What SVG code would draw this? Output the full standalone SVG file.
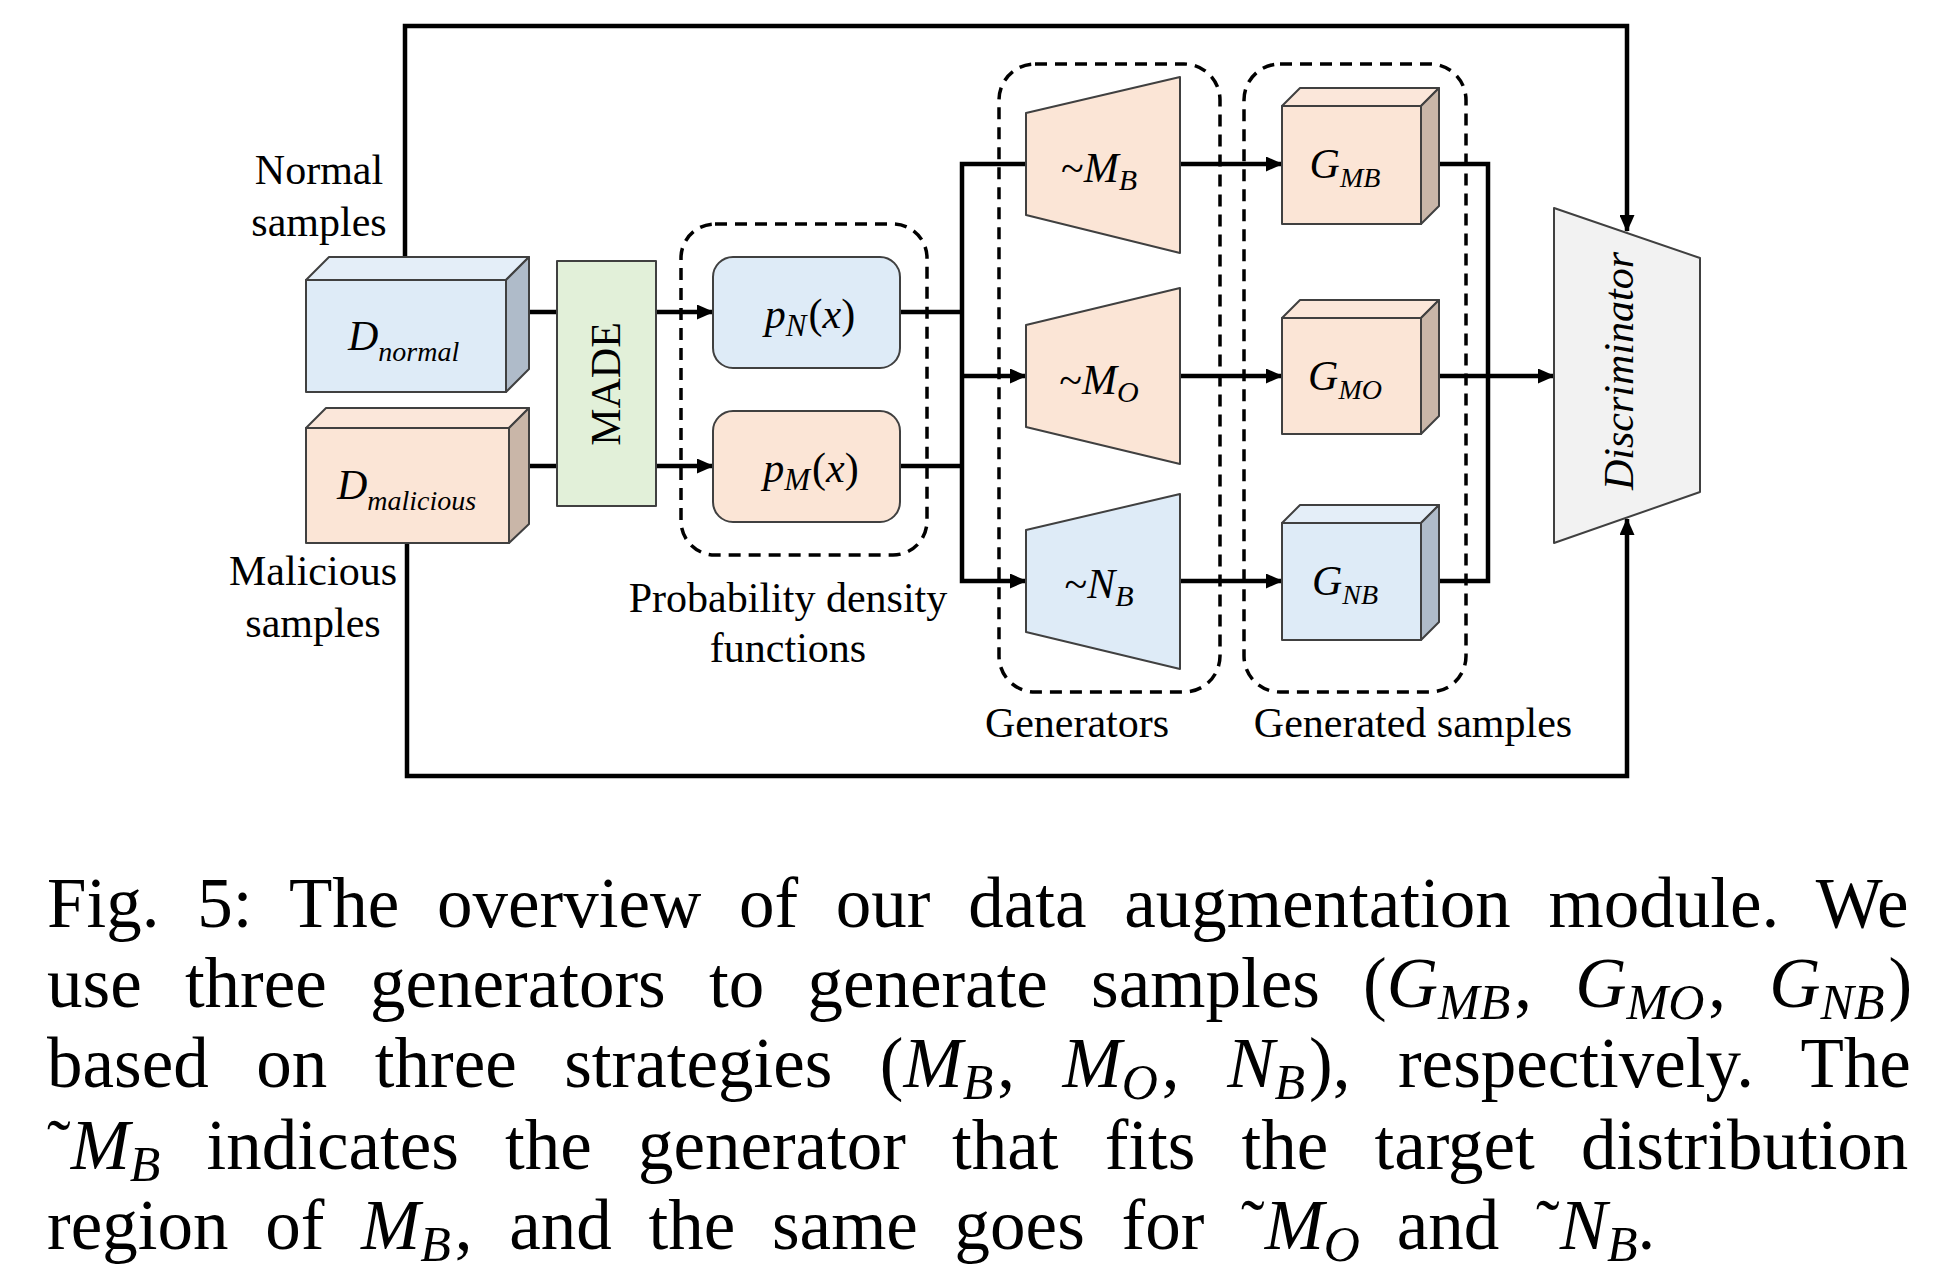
<svg xmlns="http://www.w3.org/2000/svg" width="1948" height="1280" viewBox="0 0 1948 1280">
<style>
.edge{stroke:#404040;stroke-width:2;stroke-linejoin:round}
.blue{fill:#DEEBF7}.blueT{fill:#E4EEF8}.blueS{fill:#AFBBC9}
.peach{fill:#FBE5D6}.peachT{fill:#FBE7DA}.peachS{fill:#C9B6A8}
.green{fill:#E2F0D9}.grey{fill:#F2F2F2}
.dash{fill:none;stroke:#000;stroke-width:3.5;stroke-dasharray:12 8}
.wire{fill:none;stroke:#000;stroke-width:4.5}
.lbl{font-family:"Liberation Serif","Times New Roman",serif;font-size:42px;fill:#000}
.it{font-style:italic}
.cap{font-family:"Liberation Serif","Times New Roman",serif;font-size:71px;fill:#000}
</style>
<defs>
<marker id="arr" markerUnits="userSpaceOnUse" markerWidth="17" markerHeight="15" refX="16" refY="7.5" orient="auto">
<path d="M0,0 L17,7.5 L0,15 z" fill="#000"/>
</marker>
</defs>
<rect width="1948" height="1280" fill="#fff"/>

<g id="groups">
<rect id="pdf-group" class="dash" x="681" y="224" width="246" height="331" rx="34"/>
<rect id="gen-group" class="dash" x="999" y="64" width="221" height="628" rx="36"/>
<rect id="samples-group" class="dash" x="1244" y="64" width="222" height="628" rx="36"/>
</g>

<g id="connectors">
<polyline class="wire" points="405,280 405,26 1627,26 1627,231" marker-end="url(#arr)"/>
<polyline class="wire" points="407,543 407,776 1627,776 1627,519" marker-end="url(#arr)"/>
<line class="wire" x1="529" y1="312" x2="557" y2="312"/>
<line class="wire" x1="529" y1="466" x2="557" y2="466"/>
<line class="wire" x1="656" y1="312" x2="713" y2="312" marker-end="url(#arr)"/>
<line class="wire" x1="656" y1="466" x2="713" y2="466" marker-end="url(#arr)"/>
<line class="wire" x1="900" y1="312" x2="962" y2="312"/>
<line class="wire" x1="900" y1="466" x2="962" y2="466"/>
<polyline class="wire" points="1026,164 962,164 962,581 1026,581" marker-end="url(#arr)"/>
<line class="wire" x1="962" y1="376" x2="1026" y2="376" marker-end="url(#arr)"/>
<line class="wire" x1="1180" y1="164" x2="1282" y2="164" marker-end="url(#arr)"/>
<line class="wire" x1="1180" y1="376" x2="1282" y2="376" marker-end="url(#arr)"/>
<line class="wire" x1="1180" y1="581" x2="1282" y2="581" marker-end="url(#arr)"/>
<polyline class="wire" points="1421,164 1488,164 1488,581 1421,581"/>
<line class="wire" x1="1421" y1="376" x2="1554" y2="376" marker-end="url(#arr)"/>
</g>

<g id="d-normal">
<polygon class="blueT edge" points="306,280 329,257 529,257 506,280"/>
<polygon class="blueS edge" points="506,280 529,257 529,369 506,392"/>
<rect class="blue edge" x="306" y="280" width="200" height="112"/>
<text class="lbl it" x="348" y="350" font-size="41">D<tspan font-size="28" dy="11">normal</tspan></text>
</g>
<g id="d-malicious">
<polygon class="peachT edge" points="306,428 326,408 529,408 509,428"/>
<polygon class="peachS edge" points="509,428 529,408 529,524 509,543"/>
<rect class="peach edge" x="306" y="428" width="203" height="115"/>
<text class="lbl it" x="337" y="499" font-size="41">D<tspan font-size="28" dy="11">malicious</tspan></text>
</g>
<g id="made">
<rect class="green edge" x="557" y="261" width="99" height="245"/>
<text class="lbl" text-anchor="middle" transform="translate(620,384) rotate(-90)">MADE</text>
</g>

<g id="pn">
<rect class="blue edge" x="713" y="257" width="187" height="111" rx="20"/>
<text class="lbl" x="810" y="328" text-anchor="middle" font-size="45"><tspan class="it">p</tspan><tspan class="it" font-size="31" dy="8">N</tspan><tspan dy="-8" dx="2">(</tspan><tspan class="it">x</tspan>)</text>
</g>
<g id="pm">
<rect class="peach edge" x="713" y="411" width="187" height="111" rx="20"/>
<text class="lbl" x="811" y="482" text-anchor="middle" font-size="45"><tspan class="it">p</tspan><tspan class="it" font-size="31" dy="8">M</tspan><tspan dy="-8" dx="2">(</tspan><tspan class="it">x</tspan>)</text>
</g>

<g id="gen-mb">
<polygon class="peach edge" points="1026,113 1180,77 1180,253 1026,215"/>
<text class="lbl" x="1099" y="182" text-anchor="middle">~<tspan class="it">M</tspan><tspan class="it" font-size="30" dy="8">B</tspan></text>
</g>
<g id="gen-mo">
<polygon class="peach edge" points="1026,325 1180,288 1180,464 1026,427"/>
<text class="lbl" x="1099" y="394" text-anchor="middle">~<tspan class="it">M</tspan><tspan class="it" font-size="30" dy="8">O</tspan></text>
</g>
<g id="gen-nb">
<polygon class="blue edge" points="1026,530 1180,494 1180,669 1026,632"/>
<text class="lbl" x="1099" y="598" text-anchor="middle">~<tspan class="it">N</tspan><tspan class="it" font-size="30" dy="8">B</tspan></text>
</g>

<g id="g-mb">
<polygon class="peachT edge" points="1282,106 1300,88 1439,88 1421,106"/>
<polygon class="peachS edge" points="1421,106 1439,88 1439,206 1421,224"/>
<rect class="peach edge" x="1282" y="106" width="139" height="118"/>
<text class="lbl it" x="1345" y="178" text-anchor="middle" font-size="35">G<tspan font-size="28" dy="9">MB</tspan></text>
</g>
<g id="g-mo">
<polygon class="peachT edge" points="1282,318 1300,300 1439,300 1421,318"/>
<polygon class="peachS edge" points="1421,318 1439,300 1439,416 1421,434"/>
<rect class="peach edge" x="1282" y="318" width="139" height="116"/>
<text class="lbl it" x="1345" y="390" text-anchor="middle" font-size="35">G<tspan font-size="28" dy="9">MO</tspan></text>
</g>
<g id="g-nb">
<polygon class="blueT edge" points="1282,523 1300,505 1439,505 1421,523"/>
<polygon class="blueS edge" points="1421,523 1439,505 1439,622 1421,640"/>
<rect class="blue edge" x="1282" y="523" width="139" height="117"/>
<text class="lbl it" x="1345" y="595" text-anchor="middle" font-size="35">G<tspan font-size="28" dy="9">NB</tspan></text>
</g>

<g id="discriminator">
<polygon class="grey edge" points="1554,208 1700,258 1700,492 1554,543"/>
<text class="lbl it" text-anchor="middle" transform="translate(1633,371) rotate(-90)">Discriminator</text>
</g>

<g id="labels">
<text class="lbl" x="319" y="184" text-anchor="middle">Normal</text>
<text class="lbl" x="319" y="236" text-anchor="middle">samples</text>
<text class="lbl" x="313" y="585" text-anchor="middle">Malicious</text>
<text class="lbl" x="313" y="637" text-anchor="middle">samples</text>
<text class="lbl" x="788" y="612" text-anchor="middle">Probability density</text>
<text class="lbl" x="788" y="662" text-anchor="middle">functions</text>
<text class="lbl" x="1077" y="737" text-anchor="middle">Generators</text>
<text class="lbl" x="1413" y="737" text-anchor="middle">Generated samples</text>
</g>

<g id="caption">
<text class="cap" x="47" y="927" word-spacing="20">Fig. 5: The overview of our data augmentation module. We</text>
<text class="cap" x="47" y="1007" word-spacing="25.5">use three generators to generate samples (<tspan class="it">G</tspan><tspan class="it" font-size="50" dy="12">MB</tspan><tspan dy="-12" dx="4">, </tspan><tspan class="it">G</tspan><tspan class="it" font-size="50" dy="12">MO</tspan><tspan dy="-12" dx="4">, </tspan><tspan class="it">G</tspan><tspan class="it" font-size="50" dy="12">NB</tspan><tspan dy="-12" dx="4">)</tspan></text>
<text class="cap" x="47" y="1087" word-spacing="29.8">based on three strategies (<tspan class="it">M</tspan><tspan class="it" font-size="50" dy="12">B</tspan><tspan dy="-12" dx="4">, </tspan><tspan class="it">M</tspan><tspan class="it" font-size="50" dy="12">O</tspan><tspan dy="-12" dx="4">, </tspan><tspan class="it">N</tspan><tspan class="it" font-size="50" dy="12">B</tspan><tspan dy="-12" dx="4">), respectively. The</tspan></text>
<text class="cap" x="47" y="1169" word-spacing="28.4">˜<tspan class="it">M</tspan><tspan class="it" font-size="50" dy="12">B</tspan><tspan dy="-12"> indicates the generator that fits the target distribution</tspan></text>
<text class="cap" x="47" y="1249" word-spacing="19">region of <tspan class="it">M</tspan><tspan class="it" font-size="50" dy="12">B</tspan><tspan dy="-12" dx="4">, and the same goes for ˜</tspan><tspan class="it">M</tspan><tspan class="it" font-size="50" dy="12">O</tspan><tspan dy="-12"> and ˜</tspan><tspan class="it">N</tspan><tspan class="it" font-size="50" dy="12">B</tspan><tspan dy="-12">.</tspan></text>
</g>
</svg>
